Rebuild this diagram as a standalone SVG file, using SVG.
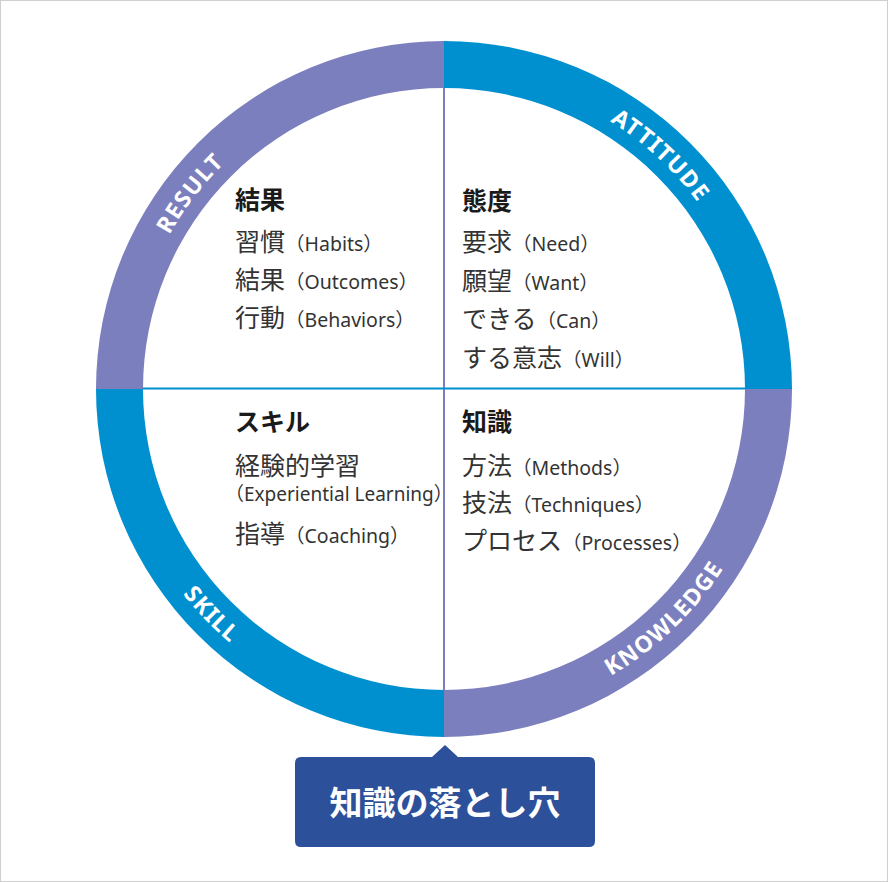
<svg xmlns="http://www.w3.org/2000/svg" width="888" height="882" viewBox="0 0 888 882">
<style>
.purple{fill:#7c7fbd}
.blue{fill:#0090d0}
.ring-label{font-family:"Noto Sans","Open Sans",sans-serif;font-weight:700;font-size:23px;fill:#fff;letter-spacing:1.3px}
.head{font-family:"Noto Sans CJK JP","Noto Sans",sans-serif;font-weight:700;font-size:25px;fill:#1a1a1a}
.item{font-family:"Noto Sans CJK JP","Noto Sans",sans-serif;font-weight:400;font-size:25px;fill:#333}
.en{font-family:"Noto Sans","Noto Sans CJK JP",sans-serif;font-size:19.5px}
.en2{font-family:"Noto Sans","Noto Sans CJK JP",sans-serif;font-size:19px}
.callout-text{font-family:"Noto Sans CJK JP","Noto Sans",sans-serif;font-weight:700;font-size:33px;fill:#fff}
</style>
<defs>
<path id="arcResult" d="M152.8,509 A315,315 0 0 1 485.7,76.8"/>
<path id="arcAttitude" d="M350.9,88.1 A315,315 0 0 1 751.2,458.8"/>
<path id="arcSkill" d="M124.7,298 A332,332 0 0 0 524.9,711"/>
<path id="arcKnowledge" d="M351.4,707.8 A332,332 0 0 0 766.4,309.8"/>
</defs>
<rect x="0.5" y="0.5" width="887" height="881" fill="#fff" stroke="#cfcfcf" stroke-width="1"/>

<g id="ring">
<path id="q-result" class="purple" d="M96,389 A348,348 0 0 1 444,41 L444,88 A301,301 0 0 0 143,389 Z"/>
<path id="q-attitude" class="blue" d="M444,41 A348,348 0 0 1 792,389 L745,389 A301,301 0 0 0 444,88 Z"/>
<path id="q-knowledge" class="purple" d="M792,389 A348,348 0 0 1 444,737 L444,690 A301,301 0 0 0 745,389 Z"/>
<path id="q-skill" class="blue" d="M444,737 A348,348 0 0 1 96,389 L143,389 A301,301 0 0 0 444,690 Z"/>
</g>

<g id="connectors">
<line x1="444" y1="88" x2="444" y2="690" stroke="#7c7fbd" stroke-width="2"/>
<line x1="143" y1="388.5" x2="745" y2="388.5" stroke="#0090d0" stroke-width="2"/>
</g>

<g id="ring-labels">
<text class="ring-label"><textPath href="#arcResult" startOffset="50%" text-anchor="middle">RESULT</textPath></text>
<text class="ring-label"><textPath href="#arcAttitude" startOffset="50%" text-anchor="middle">ATTITUDE</textPath></text>
<text class="ring-label"><textPath href="#arcSkill" startOffset="50%" text-anchor="middle">SKILL</textPath></text>
<text class="ring-label"><textPath href="#arcKnowledge" startOffset="50%" text-anchor="middle">KNOWLEDGE</textPath></text>
</g>

<g id="result">
<text class="head" x="235" y="209">結果</text>
<text class="item" x="235" y="251">習慣<tspan class="en">（Habits）</tspan></text>
<text class="item" x="235" y="289">結果<tspan class="en">（Outcomes）</tspan></text>
<text class="item" x="235" y="327">行動<tspan class="en">（Behaviors）</tspan></text>
</g>

<g id="attitude">
<text class="head" x="462" y="209.5">態度</text>
<text class="item" x="462" y="251">要求<tspan class="en">（Need）</tspan></text>
<text class="item" x="462" y="289.5">願望<tspan class="en">（Want）</tspan></text>
<text class="item" x="462" y="328">できる<tspan class="en">（Can）</tspan></text>
<text class="item" x="462" y="366.5">する意志<tspan class="en">（Will）</tspan></text>
</g>

<g id="skill">
<text class="head" x="235" y="431">スキル</text>
<text class="item" x="235" y="475">経験的学習</text>
<text class="item en2" x="225" y="501">（Experiential Learning）</text>
<text class="item" x="235" y="543">指導<tspan class="en">（Coaching）</tspan></text>
</g>

<g id="knowledge">
<text class="head" x="462" y="431">知識</text>
<text class="item" x="462" y="475">方法<tspan class="en">（Methods）</tspan></text>
<text class="item" x="462" y="512">技法<tspan class="en">（Techniques）</tspan></text>
<text class="item" x="462" y="550">プロセス<tspan class="en">（Processes）</tspan></text>
</g>

<g id="callout">
<path d="M301,757 L432,757 L445,745 L458,757 L589,757 Q595,757 595,763 L595,841 Q595,847 589,847 L301,847 Q295,847 295,841 L295,763 Q295,757 301,757 Z" fill="#2d509a"/>
<text class="callout-text" x="445" y="815" text-anchor="middle">知識の落とし穴</text>
</g>
</svg>
